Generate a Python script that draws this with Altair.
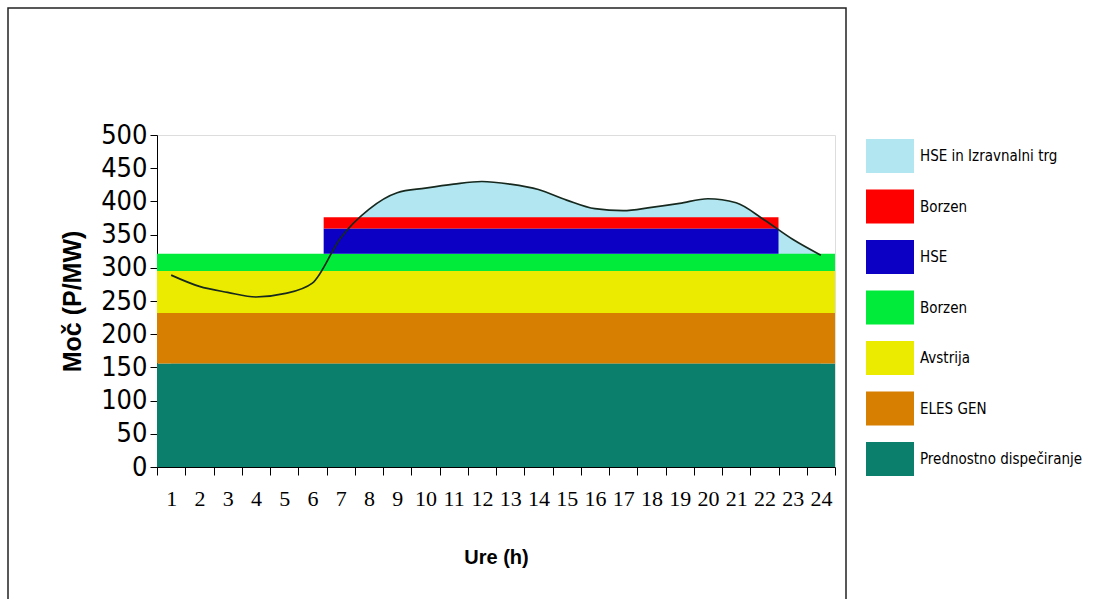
import altair as alt
import pandas as pd

# Hourly load curve (MW)
hours = list(range(1, 25))
load = [289, 272, 263, 256, 261, 277, 345, 388, 413, 420, 426, 430,
        426, 418, 402, 389, 386, 391, 397, 404, 398, 372, 343, 319]

# Supply bands (stacked)
band_names = ["Prednostno dispečiranje", "ELES GEN", "Avstrija", "Borzen", "HSE", "Borzen "]
band_start = [0.5, 0.5, 0.5, 0.5, 6.4, 6.4]
band_end = [24.5, 24.5, 24.5, 24.5, 22.5, 22.5]
band_low = [0, 156, 232, 295, 321, 359]
band_high = [156, 232, 295, 321, 359, 376]

legend_names = ["HSE in Izravnalni trg", "Borzen ", "HSE", "Borzen", "Avstrija",
                "ELES GEN", "Prednostno dispečiranje"]
legend_colors = ["#b2e7f1", "#ff0000", "#0c00c4", "#00eb3a", "#ebeb00",
                 "#d67f00", "#0b7f6c"]

tick_positions = [h + 0.5 for h in range(0, 25)]
y_ticks = list(range(0, 501, 50))

load_df = pd.DataFrame({"hour": hours, "load": load})
band_df = pd.DataFrame({"name": band_names, "start": band_start, "end": band_end,
                        "low": band_low, "high": band_high})

W, H = 678, 332
xscale = alt.Scale(domain=[0.5, 24.5], nice=False, zero=False)
yscale = alt.Scale(domain=[0, 500], nice=False)

NARROW = "DejaVu Sans Condensed, Liberation Sans, sans-serif"

x_axis = alt.Axis(
    values=tick_positions, title="Ure (h)",
    labelExpr="datum.value > 24 ? '' : format(datum.value + 0.5, 'd')",
    labelOffset=W / 24 / 2, tickSize=8, tickColor="black", domainColor="black",
    labelFont="Liberation Serif", labelFontSize=22, labelColor="black",
    labelPadding=13, labelFlush=False, labelOverlap=False, labelBound=False,
    grid=False,
    titleFont="Liberation Sans", titleFontSize=20, titleFontWeight="bold",
    titleColor="black", titleBaseline="middle", titleY=90,
)
y_axis = alt.Axis(
    values=y_ticks, title="Moč (P/MW)", tickSize=7, tickColor="black",
    domainColor="black", labelFont=NARROW, labelFontSize=27,
    labelColor="black", labelPadding=3, labelOverlap=False, labelBound=False,
    labelFlush=False, grid=False,
    titleFont="Liberation Sans", titleFontSize=25, titleFontWeight="bold",
    titleColor="black", titleBaseline="middle", titleX=-85, titleAngle=-90,
)

frame = alt.Chart(pd.DataFrame({"a": [0]})).mark_rect(
    fill=None, stroke="#222222", strokeWidth=1.5
).encode(x=alt.value(-149), x2=alt.value(689), y=alt.value(-127), y2=alt.value(480))

area = alt.Chart(load_df).mark_area(interpolate="monotone", color="#b2e7f1").encode(
    x=alt.X("hour:Q", scale=xscale, axis=x_axis),
    y=alt.Y("load:Q", scale=yscale, axis=y_axis),
)

bands = alt.Chart(band_df).mark_rect(opacity=1).encode(
    x=alt.X("start:Q", scale=xscale, axis=x_axis),
    x2="end:Q",
    y=alt.Y("low:Q", scale=yscale, axis=y_axis),
    y2="high:Q",
    color=alt.Color(
        "name:N",
        scale=alt.Scale(domain=legend_names, range=legend_colors),
        legend=alt.Legend(
            title=None, orient="none", legendX=709, legendY=-3, padding=0,
            symbolType="M-1,-0.71L1,-0.71L1,0.71L-1,0.71Z", symbolSize=2304,
            symbolStrokeWidth=0, symbolOpacity=1, rowPadding=8.5,
            labelFont=NARROW, labelFontSize=15,
            labelColor="black", labelOffset=6, labelLimit=300,
        ),
    ),
)

line = alt.Chart(load_df).mark_line(interpolate="monotone", color="#17291f", strokeWidth=1.7).encode(
    x=alt.X("hour:Q", scale=xscale, axis=x_axis),
    y=alt.Y("load:Q", scale=yscale, axis=y_axis),
)

chart = alt.layer(frame, area, bands, line).properties(
    width=W, height=H,
    autosize=alt.AutoSizeParams(type="none"),
    padding={"left": 157, "top": 135, "right": 263, "bottom": 132},
).configure_view(stroke="black", strokeWidth=1.5).configure_axis(
    labelOverlap=False
).configure(background="white")

chart.save("out.html", embed_options={"renderer": "svg", "actions": False})
